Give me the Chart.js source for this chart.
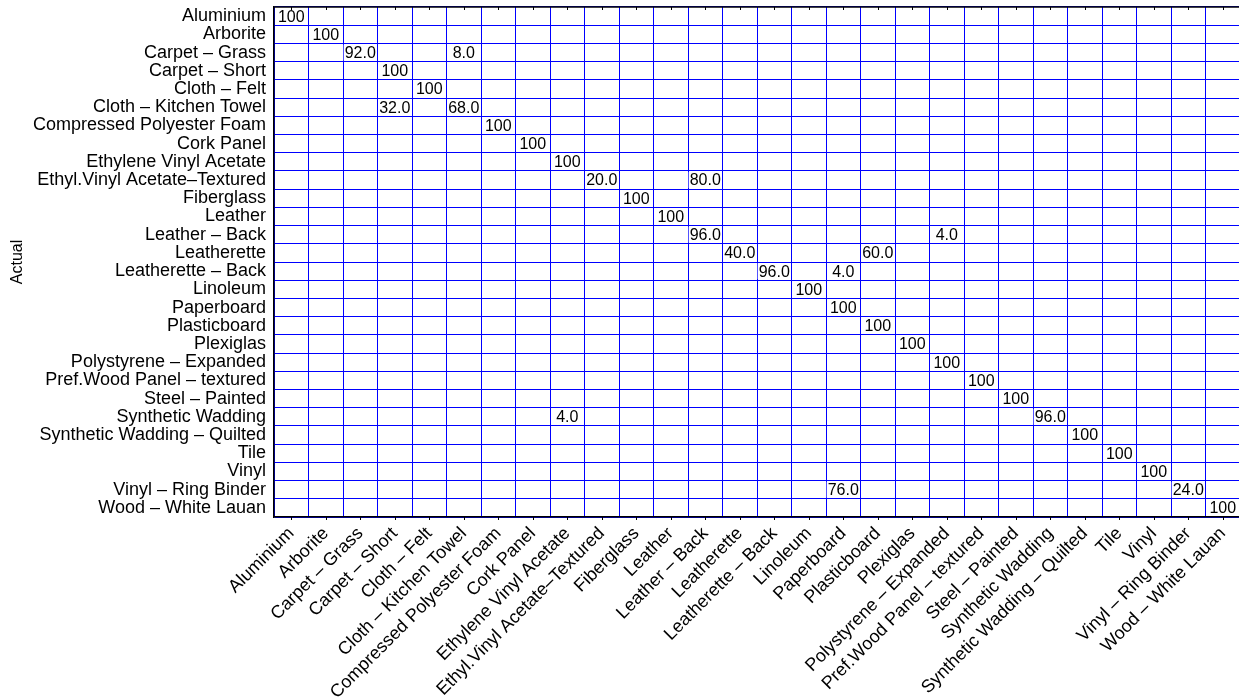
<!DOCTYPE html>
<html>
<head>
<meta charset="utf-8">
<script src="https://cdn.jsdelivr.net/npm/chart.js"></script>
<style>
  html, body { margin: 0; padding: 0; background: #fff; overflow: hidden; }
  #wrap { width: 1240px; height: 700px; position: relative; }
</style>
</head>
<body>
<div id="wrap"><canvas id="matrix"></canvas></div>
<script>
const classes = [
  'Aluminium', 'Arborite', 'Carpet – Grass', 'Carpet – Short', 'Cloth – Felt',
  'Cloth – Kitchen Towel', 'Compressed Polyester Foam', 'Cork Panel',
  'Ethylene Vinyl Acetate', 'Ethyl.Vinyl Acetate–Textured', 'Fiberglass', 'Leather',
  'Leather – Back', 'Leatherette', 'Leatherette – Back', 'Linoleum', 'Paperboard',
  'Plasticboard', 'Plexiglas', 'Polystyrene – Expanded', 'Pref.Wood Panel – textured',
  'Steel – Painted', 'Synthetic Wadding', 'Synthetic Wadding – Quilted', 'Tile',
  'Vinyl', 'Vinyl – Ring Binder', 'Wood – White Lauan'
]

// one entry per non-empty cell: actual row, predicted column, percent
const actualIdx    = [0, 1, 2, 2, 3, 4, 5, 5, 6, 7, 8, 9, 9, 10, 11, 12, 12, 13, 13, 14, 14, 15, 16, 17, 18, 19, 20, 21, 22, 22, 23, 24, 25, 26, 26, 27]
const predictedIdx = [0, 1, 2, 5, 3, 4, 3, 5, 6, 7, 8, 9, 12, 10, 11, 12, 19, 13, 17, 14, 16, 15, 16, 17, 18, 19, 20, 21, 8, 22, 23, 24, 25, 16, 26, 27]
const percents     = [100, 100, 92, 8, 100, 100, 32, 68, 100, 100, 100, 20, 80, 100, 100, 96, 4, 40, 60, 96, 4, 100, 100, 100, 100, 100, 100, 100, 4, 96, 100, 100, 100, 76, 24, 100]

const points = percents.map((v, i) => ({ x: predictedIdx[i], y: actualIdx[i], v: v }))

const FONT = 'Liberation Sans, Arial, Helvetica, sans-serif'

const cellLabels = {
  id: 'cellLabels',
  afterDatasetsDraw(chart) {
    const c = chart.ctx
    const xs = chart.scales.x
    const ys = chart.scales.y
    c.save()
    c.font = '16px ' + FONT
    c.textAlign = 'center'
    c.textBaseline = 'middle'
    points.forEach(p => {
      const px = xs.getPixelForValue(p.x)
      const py = ys.getPixelForValue(p.y)
      const txt = p.v === 100 ? '100' : p.v.toFixed(1)
      const w = c.measureText(txt).width
      c.fillStyle = '#fff'
      c.fillRect(px - w / 2 - 1, py - 8, w + 2, 16)
      c.fillStyle = '#000'
      c.fillText(txt, px, py + 1)
    })
    c.restore()
  },
  afterDraw(chart) {
    const c = chart.ctx
    const a = chart.chartArea
    const xs = chart.scales.x
    c.save()
    c.strokeStyle = '#000'
    c.lineWidth = 1.5
    c.beginPath()
    c.moveTo(a.left, a.top)
    c.lineTo(a.right, a.top)
    c.stroke()
    c.lineWidth = 1
    c.beginPath()
    classes.forEach((_, i) => {
      const x = Math.round(xs.getPixelForValue(i)) + 0.5
      c.moveTo(x, a.bottom)
      c.lineTo(x, a.bottom + 3)
      c.moveTo(x, a.top)
      c.lineTo(x, a.top + 3)
    })
    c.stroke()
    c.restore()
  }
}

new Chart(document.getElementById('matrix'), {
  type: 'scatter',
  data: {
    datasets: [{
      data: points,
      pointRadius: 0,
      pointHoverRadius: 0,
    }],
  },
  options: {
    responsive: true,
    maintainAspectRatio: false,
    animation: false,
    events: [],
    layout: {
      padding: { top: 7, right: 0, left: 0, bottom: 0 },
    },
    scales: {
      x: {
        type: 'category',
        labels: classes,
        offset: true,
        grid: {
          color: '#0000ff',
          offset: true,
          drawTicks: false,
        },
        border: { color: '#000', width: 1.5 },
        ticks: {
          color: '#000',
          autoSkip: false,
          maxRotation: 45,
          minRotation: 45,
          padding: 6,
          font: { size: 18, family: FONT },
        },
        afterFit(scale) {
          scale.height = 183
          scale.paddingLeft = 0
          scale.paddingRight = 0
        },
      },
      y: {
        type: 'category',
        labels: classes,
        offset: true,
        grid: {
          color: '#0000ff',
          offset: true,
          drawTicks: false,
        },
        border: { color: '#000', width: 1.5 },
        ticks: {
          color: '#000',
          autoSkip: false,
          padding: 8,
          font: { size: 18, family: FONT },
        },
        title: {
          display: true,
          text: 'Actual',
          color: '#000',
          padding: { top: 8, bottom: 0 },
          font: { size: 16, family: FONT },
        },
        afterFit(scale) {
          scale.width = 274
          scale.paddingTop = 0
          scale.paddingBottom = 0
        },
      },
    },
    plugins: {
      legend: { display: false },
      tooltip: { enabled: false },
    },
  },
  plugins: [cellLabels],
})
</script>
</body>
</html>
